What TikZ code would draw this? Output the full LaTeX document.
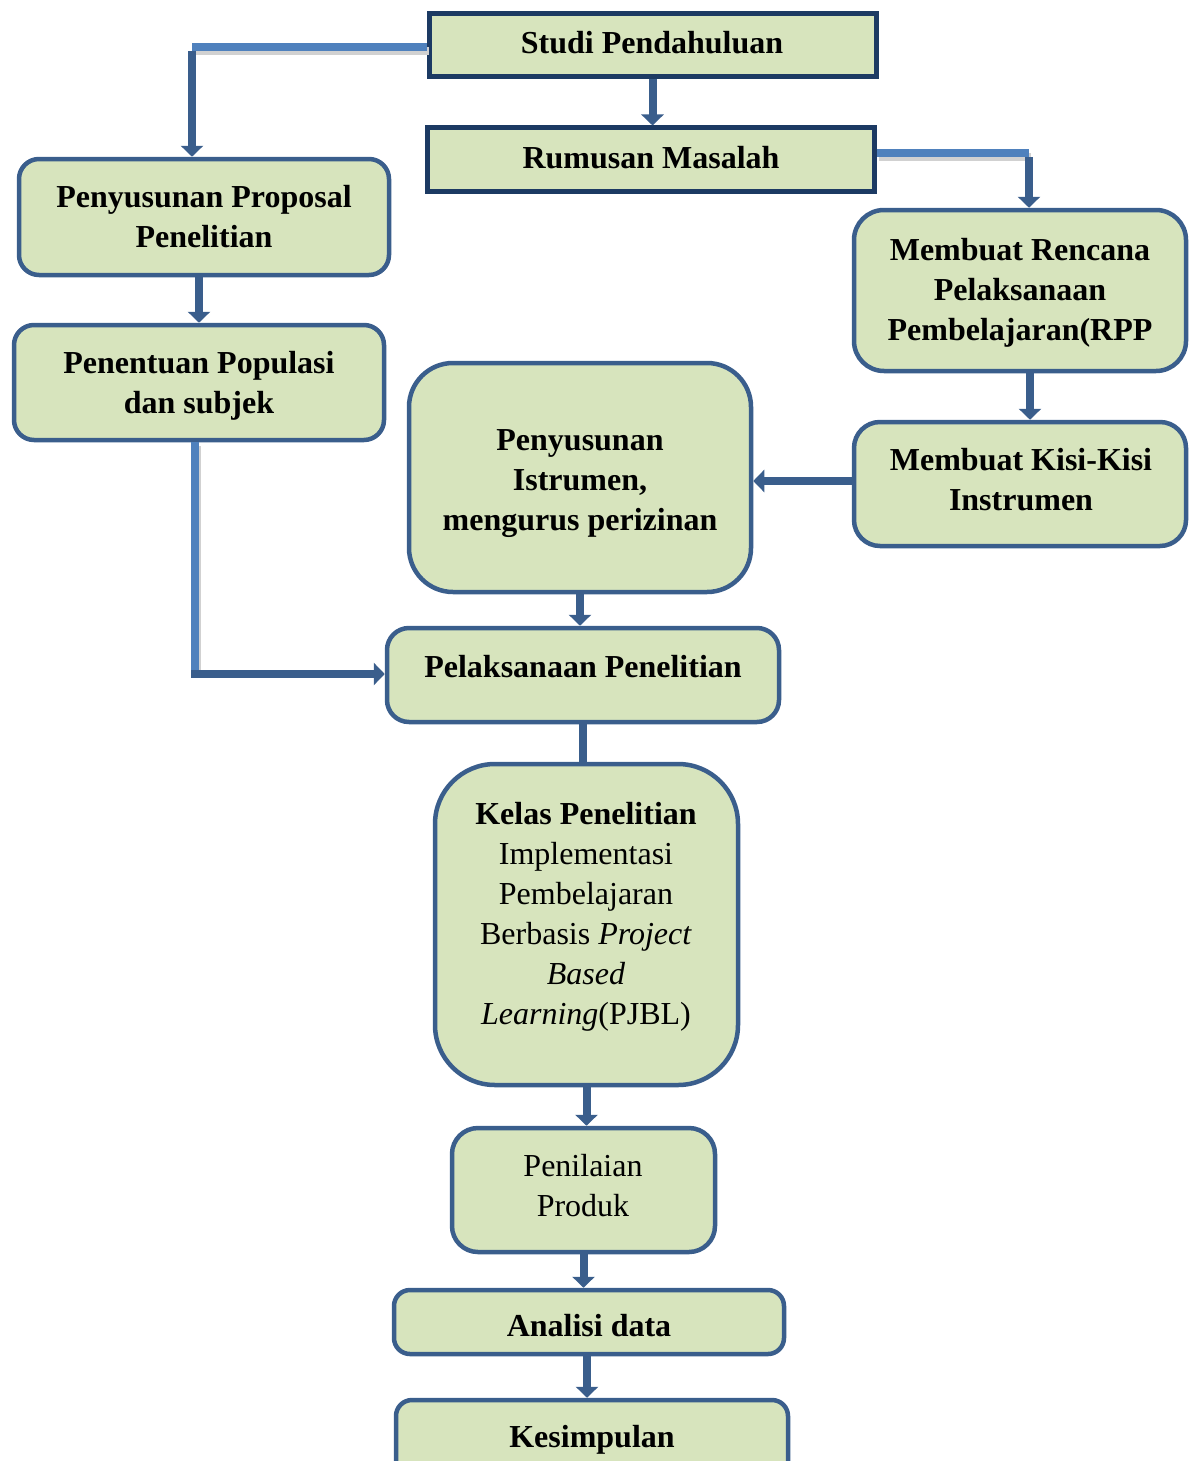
\documentclass[tikz,border=0pt]{standalone}
\usepackage{fontspec}
\setmainfont{Liberation Serif}
\usetikzlibrary{arrows.meta}
\definecolor{boxfill}{HTML}{D7E4BD}
\definecolor{navy}{HTML}{1C3A63}
\definecolor{steel}{HTML}{3A5E8C}
\definecolor{lightsteel}{HTML}{4F81BD}
\tikzset{
  sbox/.style={draw=navy, fill=boxfill, line width=2.5pt, inner sep=0pt},
  rbox/.style={draw=steel, fill=boxfill, line width=2.25pt, inner sep=0pt},
  txt/.style={align=center, anchor=base, inner sep=0pt, font=\fontsize{16pt}{20pt}\selectfont},
  darkline/.style={draw=steel, line width=4pt},
  lightline/.style={draw=lightsteel, line width=4pt,
     preaction={draw=black!18, line width=4pt, transform canvas={shift={(1pt,-2pt)}}}},
  tip/.style={-{Triangle[width=11pt,length=5.5pt]}}
}
\begin{document}
\begin{tikzpicture}[x=0.5pt,y=-0.5pt]
\clip (0,0) rectangle (1192,1461);
\useasboundingbox (0,0) rectangle (1192,1461);

% boxes
\node[sbox, minimum width=223.5pt, minimum height=31.5pt] (studi) at (652.5,45.5) {};
\node[sbox, minimum width=223.5pt, minimum height=31.5pt] (rum) at (650.5,159.5) {};
\node[rbox, rounded corners=10pt, minimum width=185pt, minimum height=58pt] (prop) at (204,217) {};
\node[rbox, rounded corners=10pt, minimum width=185pt, minimum height=57.5pt] (pop) at (199,382.5) {};
\node[rbox, rounded corners=15pt, minimum width=166pt, minimum height=80.5pt] (rpp) at (1020,290.5) {};
\node[rbox, rounded corners=13pt, minimum width=166pt, minimum height=62pt] (kisi) at (1020,484) {};
\node[rbox, rounded corners=22pt, minimum width=171pt, minimum height=114.5pt] (peny) at (580,477.5) {};
\node[rbox, rounded corners=11pt, minimum width=196pt, minimum height=47pt] (pel) at (583,675) {};
\node[rbox, rounded corners=30pt, minimum width=151.5pt, minimum height=160.5pt] (kelas) at (586.5,924.5) {};
\node[rbox, rounded corners=13pt, minimum width=131.5pt, minimum height=62pt] (penil) at (583.5,1190) {};
\node[rbox, rounded corners=8pt, minimum width=195pt, minimum height=32pt] (ana) at (589,1322) {};
\node[rbox, rounded corners=8pt, minimum width=196pt, minimum height=50pt] (kes) at (592,1450) {};

% texts (anchor base = baseline of the last line)
\node[txt] (studiT) at (652,54) {\textbf{Studi Pendahuluan}};
\node[txt] (rumT) at (651,169) {\textbf{Rumusan Masalah}};
\node[txt] (propT) at (204,247) {\textbf{Penyusunan Proposal}\\\textbf{Penelitian}};
\node[txt] (popT) at (199,413) {\textbf{Penentuan Populasi}\\\textbf{dan subjek}};
\node[txt] (rppT) at (1020,340) {\textbf{Membuat Rencana}\\\textbf{Pelaksanaan}\\\textbf{Pembelajaran(RPP}};
\node[txt] (kisiT) at (1021,510) {\textbf{Membuat Kisi-Kisi}\\\textbf{Instrumen}};
\node[txt] (penyT) at (580,530) {\textbf{Penyusunan}\\\textbf{Istrumen,}\\\textbf{mengurus perizinan}};
\node[txt] (pelT) at (583,677) {\textbf{Pelaksanaan Penelitian}};
\node[txt] (kelasT) at (586,1024) {\textbf{Kelas Penelitian}\\Implementasi\\Pembelajaran\\Berbasis \textit{Project}\\\textit{Based}\\\textit{Learning}(PJBL)};
\node[txt] (penilT) at (583,1216) {Penilaian\\Produk};
\node[txt] (anaT) at (589,1336) {\textbf{Analisi data}};
\node[txt] (kesT) at (592,1447) {\textbf{Kesimpulan}};

% connectors
\coordinate (c1) at (192,47);
\draw[lightline] (studi.west |- c1) -- (c1);
\draw[darkline, tip] ([yshift=-2pt]c1) -- (c1 |- prop.north);

\draw[darkline, tip] (studi.south) -- (studi.south |- rum.north);

\coordinate (c2) at (1029,153);
\draw[lightline] (rum.east |- c2) -- (c2);
\draw[darkline, tip] ([yshift=-2pt]c2) -- (c2 |- rpp.north);

\draw[darkline, tip] ([xshift=-2.5pt]prop.south) -- ([xshift=-2.5pt]prop.south |- pop.north);
\draw[darkline, tip] ([xshift=5pt]rpp.south) -- ([xshift=5pt]rpp.south |- kisi.north);
\draw[darkline, tip] ([yshift=1.5pt]kisi.west) -- ([yshift=1.5pt]kisi.west -| peny.east);

\coordinate (c3) at (195,674);
\draw[lightline] (pop.south -| c3) -- (c3);
\draw[darkline, tip] ([xshift=-2pt]c3) -- (c3 -| pel.west);

\draw[darkline, tip] (peny.south) -- (peny.south |- pel.north);
\draw[darkline] (pel.south) -- (pel.south |- kelas.north);
\draw[darkline, tip] (kelas.south) -- (kelas.south |- penil.north);
\draw[darkline, tip] (penil.south) -- (penil.south |- ana.north);
\draw[darkline, tip] ([xshift=-1pt]ana.south) -- ([xshift=-1pt]ana.south |- kes.north);
\end{tikzpicture}
\end{document}
